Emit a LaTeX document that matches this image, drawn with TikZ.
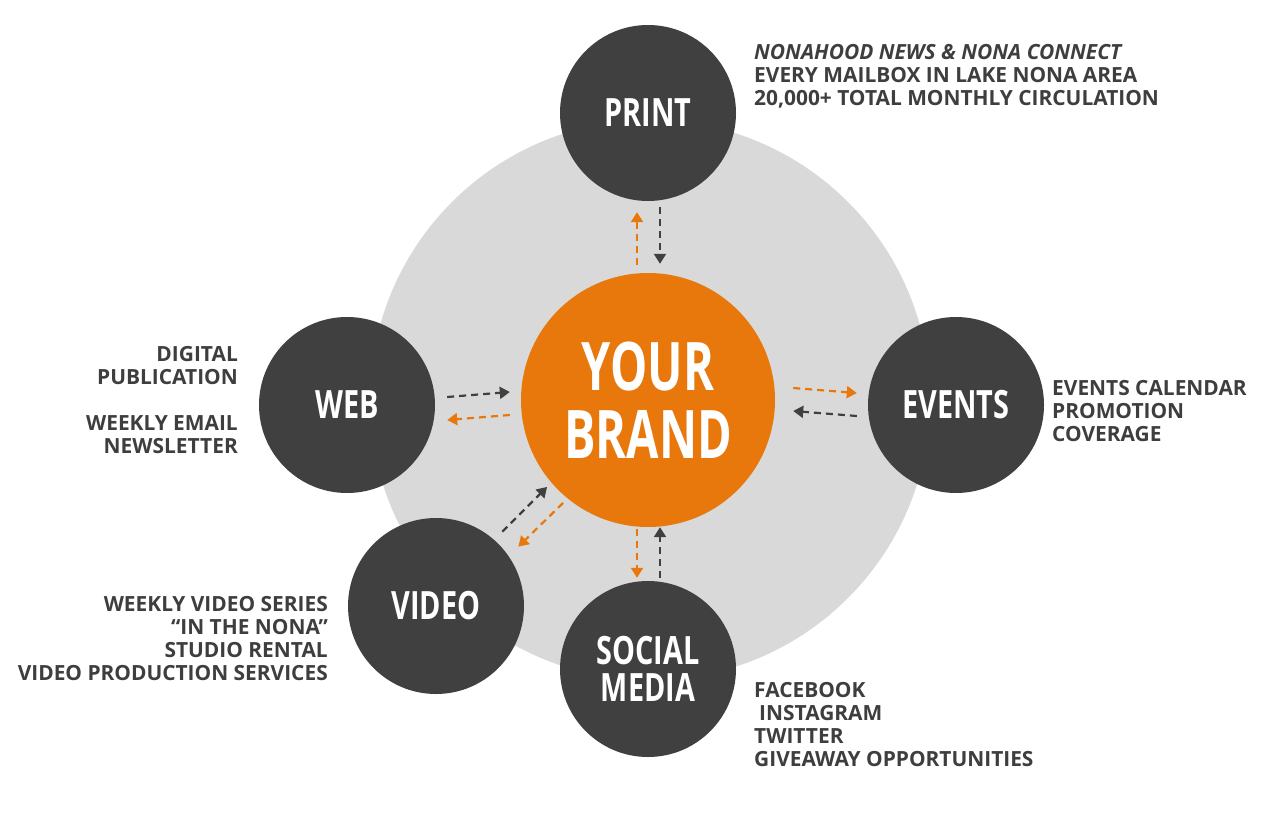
\documentclass[tikz,border=0pt]{standalone}
\usepackage{fontspec}
\setmainfont{Open Sans}
\newfontfamily\condfont[FakeStretch=0.74]{Open Sans}
\newfontfamily\brandfont[FakeStretch=0.70]{Open Sans}
\usetikzlibrary{arrows.meta,calc}
\definecolor{darkc}{HTML}{404040}
\definecolor{txt}{HTML}{3E3E3E}
\definecolor{orng}{HTML}{E8780C}
\definecolor{lgrey}{HTML}{D9D9D9}
\tikzset{
  hub/.style={circle, fill=darkc, minimum size=176pt, inner sep=0pt, text=white,
    font=\condfont\bfseries\fontsize{39}{37}\selectfont, align=center},
  brandst/.style={circle, fill=orng, minimum size=254pt, inner sep=0pt, text=white,
    font=\brandfont\bfseries\fontsize{67}{68}\selectfont, align=center},
  info/.style={text=txt, font=\bfseries\fontsize{20.9}{23}\selectfont, inner sep=0pt},
  darr/.style={draw=darkc, line width=2.2pt, dash pattern=on 7pt off 5pt,
    -{Triangle[length=10pt,width=12pt]}},
  oarr/.style={draw=orng, line width=2.2pt, dash pattern=on 7pt off 5pt,
    -{Triangle[length=10pt,width=12pt]}}
}
\begin{document}
\begin{tikzpicture}[x=1pt,y=-1pt]
\fill[white] (0,0) rectangle (1284,813);
\useasboundingbox (0,0) rectangle (1284,813);
\node[circle, fill=lgrey, minimum size=560pt, inner sep=0pt] (bg) at (650,400) {};
\node[brandst] (brand) at (648,400) {YOUR\\BRAND};
\node[hub] (print) at (648,113) {PRINT};
\node[hub] (web) at (347,405) {WEB};
\node[hub] (events) at (956,405) {EVENTS};
\node[hub] (video) at (436,606) {VIDEO};
\node[hub] (social) at (648,669) {SOCIAL\\MEDIA};
% arrows
\draw[oarr] ($(brand.north)+(-11,-8)$) -- ($(print.south)+(-11,11)$);
\draw[darr] ($(print.south)+(12,6)$) -- ($(brand.north)+(12,-9)$);
\draw[darr] ($(web.east)+(12,-8)$) -- ($(brand.west)+(-11,-8)$);
\draw[oarr] ($(brand.west)+(-11,15)$) -- ($(web.east)+(12,15)$);
\draw[oarr] ($(brand.east)+(18,-12)$) -- ($(events.west)+(-11,-12)$);
\draw[darr] ($(events.west)+(-11,11)$) -- ($(brand.east)+(18,11)$);
\draw[darr] ($(video.45)+(4,-12)$) -- ($(brand.225)+(-11,-3)$);
\draw[oarr] ($(brand.225)+(5,13)$) -- ($(video.45)+(20,3)$);
\draw[oarr] ($(brand.south)+(-11,2)$) -- ($(social.north)+(-11,-3)$);
\draw[darr] ($(social.north)+(12,-3)$) -- ($(brand.south)+(12,0)$);
% print info
\node[info, anchor=base west] (p1) at (754,60) {\itshape NONAHOOD NEWS \& NONA CONNECT};
\node[info, anchor=base west] (p2) at (754,83) {EVERY MAILBOX IN LAKE NONA AREA};
\node[info, anchor=base west] (p3) at (754,106) {20,000+ TOTAL MONTHLY CIRCULATION};
% web info
\node[info, anchor=base east] (w1) at (238,361) {DIGITAL};
\node[info, anchor=base east] (w2) at (238,384) {PUBLICATION};
\node[info, anchor=base east] (w3) at (238,430) {WEEKLY EMAIL};
\node[info, anchor=base east] (w4) at (238,453) {NEWSLETTER};
% events info
\node[info, anchor=base west] (e1) at (1052,395) {EVENTS CALENDAR};
\node[info, anchor=base west] (e2) at (1052,418) {PROMOTION};
\node[info, anchor=base west] (e3) at (1052,441) {COVERAGE};
% video info
\node[info, anchor=base east] (v1) at (328,611) {WEEKLY VIDEO SERIES};
\node[info, anchor=base east] (v2) at (328,634) {“IN THE NONA”};
\node[info, anchor=base east] (v3) at (328,657) {STUDIO RENTAL};
\node[info, anchor=base east] (v4) at (328,680) {VIDEO PRODUCTION SERVICES};
% social info
\node[info, anchor=base west] (s1) at (754,697) {FACEBOOK};
\node[info, anchor=base west] (s2) at (759,720) {INSTAGRAM};
\node[info, anchor=base west] (s3) at (754,743) {TWITTER};
\node[info, anchor=base west] (s4) at (754,766) {GIVEAWAY OPPORTUNITIES};
\end{tikzpicture}
\end{document}
